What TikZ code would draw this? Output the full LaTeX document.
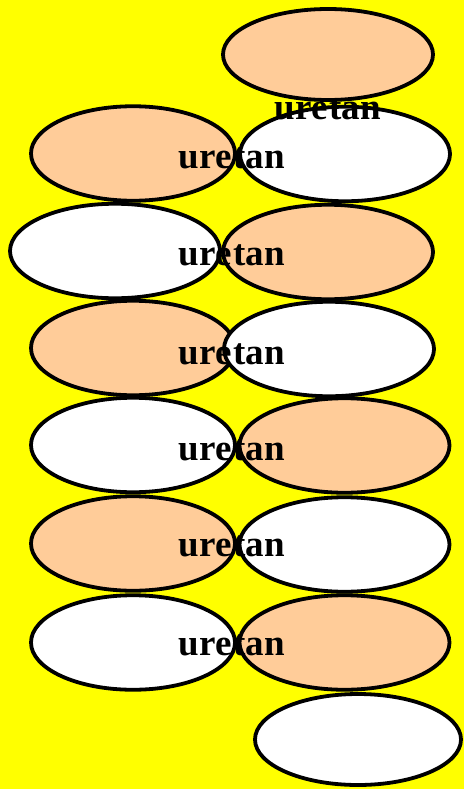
\documentclass[tikz,border=0pt]{standalone}
\usepackage{fontspec}
\setmainfont{Liberation Serif}
\usetikzlibrary{shapes.geometric}
\definecolor{peachc}{HTML}{FFCC99}
\definecolor{bgyellow}{HTML}{FFFF00}
\begin{document}
\begin{tikzpicture}[x=1pt,y=-1pt,
  oval/.style={ellipse, draw=black, line width=3.8pt, inner sep=0pt, minimum height=94.5pt},
  wide/.style={oval, minimum width=210pt},
  narrow/.style={oval, minimum width=204pt},
  peach/.style={fill=peachc},
  blank/.style={fill=white},
  lbl/.style={font=\bfseries\fontsize{37}{37}\selectfont, anchor=base, inner sep=0pt}]
\fill[bgyellow] (0,0) rectangle (464,789);
\useasboundingbox (0,0) rectangle (464,789);
% ellipses
\node[wide, peach, minimum height=91pt] (top) at (328,54.5) {};
\node[narrow, peach] (l1) at (133,153.5) {};
\node[wide, blank] (r1) at (345,154) {};
\node[wide, blank] (l2) at (115,251) {};
\node[wide, peach] (r2) at (328,252) {};
\node[narrow, peach] (l3) at (133,348) {};
\node[wide, blank] (r3) at (329,349) {};
\node[narrow, blank] (l4) at (133,445) {};
\node[wide, peach] (r4) at (344.5,445.5) {};
\node[narrow, peach] (l5) at (133,543.5) {};
\node[wide, blank] (r5) at (344.5,544.5) {};
\node[narrow, blank] (l6) at (133,642.5) {};
\node[wide, peach] (r6) at (344.5,642.5) {};
\node[oval, blank, minimum width=206pt, minimum height=91pt] (bot) at (358,739.5) {};
% labels
\node[lbl] (t0) at (328,120) {ure\kern2pt tan};
\node[lbl] (t1) at (232,168) {ure\kern2pt tan};
\node[lbl] (t2) at (232,265) {ure\kern2pt tan};
\node[lbl] (t3) at (232,364) {ure\kern2pt tan};
\node[lbl] (t4) at (232,460) {ure\kern2pt tan};
\node[lbl] (t5) at (232,556) {ure\kern2pt tan};
\node[lbl] (t6) at (232,655) {ure\kern2pt tan};
\end{tikzpicture}
\end{document}
